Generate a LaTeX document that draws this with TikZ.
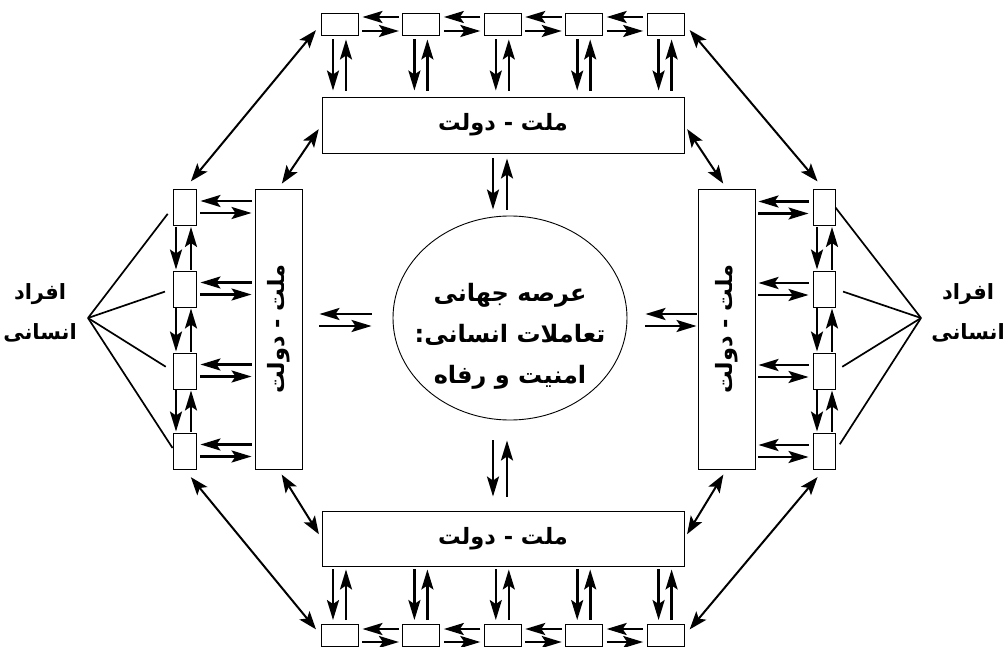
\documentclass[tikz,border=0pt]{standalone}
\usepackage{fontspec}
\usepackage{graphicx}
\usetikzlibrary{arrows.meta,shapes.geometric}
\newfontfamily\fa[Script=Arabic]{DejaVu Sans}
\TeXXeTstate=1
\begin{document}
\begin{tikzpicture}[x=1pt,y=-1pt,
  box/.style={draw, line width=0.9pt, inner sep=0pt, fill=white},
  sbox/.style={box, minimum width=37pt, minimum height=22pt},
  vbox/.style={box, minimum width=23pt, minimum height=36pt},
  arr/.style={line width=2.6pt, -{Stealth[length=20pt,width=12pt,inset=4pt]}},
  darr/.style={line width=2pt, {Stealth[length=18pt,width=13pt,inset=4pt]}-{Stealth[length=18pt,width=13pt,inset=4pt]}},
  ln/.style={line width=1.7pt},
  fatext/.style={font=\fa\bfseries\fontsize{22.5}{26}\selectfont},
  lbl/.style={font=\fa\bfseries\fontsize{21}{40}\selectfont, align=center},
]
\useasboundingbox (0,0) rectangle (1007,647);
% big boxes
\node[box, fatext, minimum width=362pt, minimum height=56pt] (T) at (503,125) {\beginR ملت - دولت\endR};
\node[box, fatext, minimum width=362pt, minimum height=55pt] (B) at (503,538.5) {\beginR ملت - دولت\endR};
\node[box, fatext, minimum width=47pt, minimum height=280pt] (L) at (278.5,329) {\rotatebox{90}{\beginR ملت - دولت\endR}};
\node[box, fatext, minimum width=57pt, minimum height=280pt] (R) at (726.5,329) {\rotatebox{90}{\beginR ملت - دولت\endR}};
% centre
\node[draw, ellipse, line width=0.9pt, minimum width=234pt, minimum height=204pt, inner sep=0pt] (C) at (510,318) {};
\node[font=\fa\bfseries\fontsize{24}{41}\selectfont, align=center] (Ctext) at (510,336)
  {\beginR عرصه جهانی\endR\\\beginR تعاملات انسانی:\endR\\\beginR امنیت و رفاه\endR};
% small boxes
\foreach \i/\x in {1/340,2/421.4,3/502.8,4/584.2,5/665.6}{
  \node[sbox] (t\i) at (\x,24) {};
  \node[sbox] (b\i) at (\x,635.5) {};
}
\foreach \i/\y in {1/207.5,2/289,3/371,4/451}{
  \node[vbox] (l\i) at (184.5,\y) {};
  \node[vbox, minimum width=22pt] (r\i) at (824,\y) {};
}
% top & bottom rows: horizontal arrows
\foreach \i/\j in {1/2,2/3,3/4,4/5}{
  \draw[arr, shorten <=3.5pt, shorten >=3.5pt] ([yshift=7pt]t\j.west) -- ([yshift=7pt]t\i.east);
  \draw[arr, shorten <=3.5pt, shorten >=3.5pt] ([yshift=-7pt]t\i.east) -- ([yshift=-7pt]t\j.west);
  \draw[arr, shorten <=3.5pt, shorten >=3.5pt] ([yshift=6.5pt]b\j.west) -- ([yshift=6.5pt]b\i.east);
  \draw[arr, shorten <=3.5pt, shorten >=3.5pt] ([yshift=-6.5pt]b\i.east) -- ([yshift=-6.5pt]b\j.west);
}
% top & bottom rows: vertical arrows
\foreach \i in {1,...,5}{
  \draw[arr, shorten <=4pt, shorten >=6pt] ([xshift=-7pt]t\i.south) -- ([xshift=-7pt]t\i.south |- T.north);
  \draw[arr, shorten <=6pt, shorten >=4pt] ([xshift=6pt]t\i.south |- T.north) -- ([xshift=6pt]t\i.south);
  \draw[arr, shorten <=3pt, shorten >=4pt] ([xshift=-7pt]b\i.north |- B.south) -- ([xshift=-7pt]b\i.north);
  \draw[arr, shorten <=4pt, shorten >=3pt] ([xshift=6pt]b\i.north) -- ([xshift=6pt]b\i.north |- B.south);
}
% side columns: horizontal arrows
\foreach \i in {1,...,4}{
  \draw[arr, shorten <=3pt, shorten >=4pt] ([yshift=6.5pt]l\i.east -| L.west) -- ([yshift=6.5pt]l\i.east);
  \draw[arr, shorten <=4pt, shorten >=3pt] ([yshift=-5.5pt]l\i.east) -- ([yshift=-5.5pt]l\i.east -| L.west);
  \draw[arr, shorten <=4pt, shorten >=3pt] ([yshift=6pt]r\i.west) -- ([yshift=6pt]r\i.west -| R.east);
  \draw[arr, shorten <=3pt, shorten >=4pt] ([yshift=-6pt]r\i.west -| R.east) -- ([yshift=-6pt]r\i.west);
}
% side columns: vertical arrows
\foreach \i/\j in {1/2,2/3,3/4}{
  \draw[arr, shorten <=1pt, shorten >=1pt] ([xshift=-8.5pt]l\i.south) -- ([xshift=-8.5pt]l\j.north);
  \draw[arr, shorten <=1pt, shorten >=1pt] ([xshift=6.5pt]l\j.north) -- ([xshift=6.5pt]l\i.south);
  \draw[arr, shorten <=1pt, shorten >=1pt] ([xshift=-7pt]r\i.south) -- ([xshift=-7pt]r\j.north);
  \draw[arr, shorten <=1pt, shorten >=1pt] ([xshift=8pt]r\j.north) -- ([xshift=8pt]r\i.south);
}
% centre arrows
\draw[arr, shorten <=5pt, shorten >=6pt] ([xshift=-10pt]T.south) -- ([xshift=-10pt]T.south |- C.north);
\draw[arr, shorten <=6pt, shorten >=5pt] ([xshift=4pt]T.south |- C.north) -- ([xshift=4pt]T.south);
\draw[arr, shorten <=20pt, shorten >=14pt] ([xshift=-10pt]B.north |- C.south) -- ([xshift=-10pt]B.north);
\draw[arr, shorten <=14pt, shorten >=20pt] ([xshift=4pt]B.north) -- ([xshift=4pt]B.north |- C.south);
\draw[arr, shorten <=21pt, shorten >=17pt] ([yshift=4pt]C.west) -- ([yshift=4pt]C.west -| L.east);
\draw[arr, shorten <=17pt, shorten >=21pt] ([yshift=-8pt]C.west -| L.east) -- ([yshift=-8pt]C.west);
\draw[arr, shorten <=1pt, shorten >=18pt] ([yshift=4pt]C.east -| R.west) -- ([yshift=4pt]C.east);
\draw[arr, shorten <=18pt, shorten >=1pt] ([yshift=-8pt]C.east) -- ([yshift=-8pt]C.east -| R.west);
% diagonal double arrows
\draw[darr, shorten <=8pt, shorten >=10pt] (t1.west) -- (l1.north);
\draw[darr, shorten <=8pt, shorten >=10pt] (t5.east) -- (r1.north);
\draw[darr, shorten <=8pt, shorten >=10pt] (b1.west) -- (l4.south);
\draw[darr, shorten <=8pt, shorten >=10pt] (b5.east) -- (r4.south);
\draw[darr, shorten <=5pt, shorten >=6pt] (T.west) -- (L.north);
\draw[darr, shorten <=5pt, shorten >=6pt] (T.east) -- (R.north);
\draw[darr, shorten <=5pt, shorten >=6pt] (B.west) -- (L.south);
\draw[darr, shorten <=5pt, shorten >=6pt] (B.east) -- (R.south);
% human individuals
\coordinate (P) at (88,318);
\coordinate (Q) at (921,318);
\node[lbl] (LL) at (40,313) {\beginR افراد\endR\\\beginR انسانی\endR};
\node[lbl] (RL) at (968,313) {\beginR افراد\endR\\\beginR انسانی\endR};
\draw[ln, shorten >=8pt] (P) -- (l1.west);
\draw[ln, shorten >=8pt] (P) -- (l2.west);
\draw[ln, shorten >=8pt] (P) -- (l3.west);
\draw[ln] (P) -- ([yshift=3pt]l4.west);
\draw[ln] (Q) -- (r1.east);
\draw[ln, shorten >=8pt] (Q) -- (r2.east);
\draw[ln, shorten >=8pt] (Q) -- (r3.east);
\draw[ln, shorten >=8pt] (Q) -- (r4.east);
\end{tikzpicture}
\end{document}
